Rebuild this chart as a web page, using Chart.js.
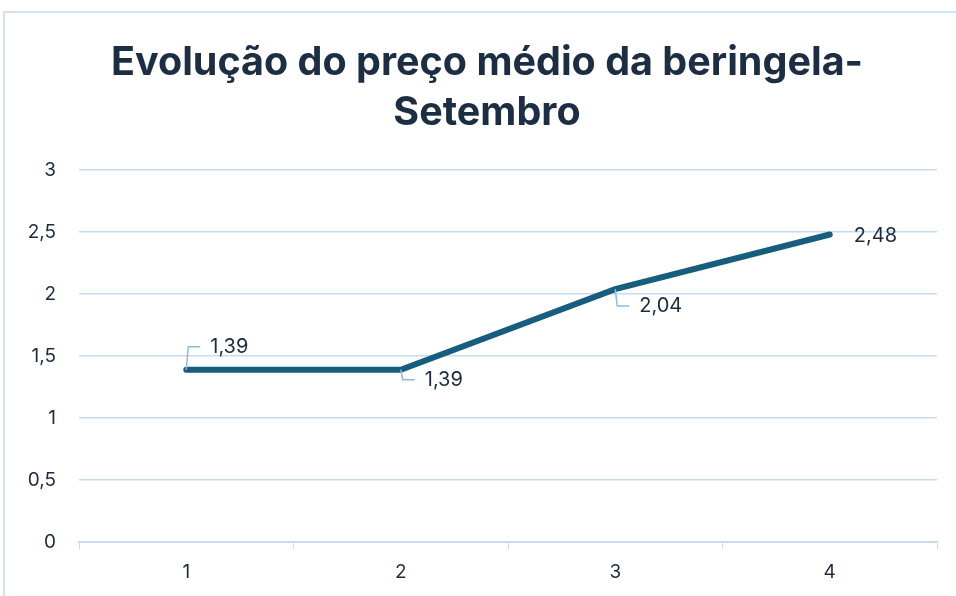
<!DOCTYPE html>
<html>
<head>
<meta charset="utf-8">
<script src="https://cdn.jsdelivr.net/npm/chart.js@4"></script>
<style>
  html, body { margin: 0; padding: 0; background: #fff; }
  #wrap { position: relative; width: 956px; height: 596px; }
</style>
</head>
<body>
<div id="wrap"><canvas id="myChart" width="956" height="596"></canvas></div>
<script>
const semanas = ["1", "2", "3", "4"];
const precoMedio = [1.39, 1.39, 2.04, 2.48];
const yTicks = [0, 0.5, 1, 1.5, 2, 2.5, 3];
const tituloLinhas = ["Evolução do preço médio da beringela-", "Setembro"];

// where each data label sits relative to its point (dx, dy) and whether it gets a leader line
const labelPos = [
  { dx: 24, dy: -23, leader: true },
  { dx: 24, dy: 10, leader: true },
  { dx: 24, dy: 17, leader: true },
  { dx: 24, dy: 1, leader: false }
];

const txtColor = "#1b2b3f";
const gridColor = "#c8dcf0";
const fontFam = "Inter, 'Open Sans', sans-serif";
const fmt = (v) => String(v).replace(".", ",");

const frame = {
  id: "frame",
  beforeDraw(chart) {
    const c = chart.ctx;
    c.save();
    c.strokeStyle = "#c5d9ee";
    c.lineWidth = 1.5;
    c.strokeRect(4, 12, 2000, 2000);
    // title
    c.fillStyle = "#1c2e44";
    c.font = "bold 39.5px " + fontFam;
    c.textAlign = "center";
    c.textBaseline = "alphabetic";
    c.fillText(tituloLinhas[0], 487, 75);
    c.fillText(tituloLinhas[1], 487, 125);
    c.restore();
  }
};

const dataLabels = {
  id: "dataLabels",
  afterDatasetsDraw(chart) {
    const c = chart.ctx;
    const meta = chart.getDatasetMeta(0);
    c.save();
    c.font = "20px " + fontFam;
    c.fillStyle = txtColor;
    c.textBaseline = "middle";
    meta.data.forEach((pt, i) => {
      const p = labelPos[i];
      const tx = pt.x + p.dx;
      const ty = pt.y + p.dy;
      if (p.leader) {
        c.strokeStyle = "#8fb8e0";
        c.lineWidth = 1.5;
        c.beginPath();
        c.moveTo(pt.x, pt.y);
        c.lineTo(pt.x + 2, ty);
        c.lineTo(tx - 10, ty);
        c.stroke();
      }
      c.fillText(fmt(chart.data.datasets[0].data[i]), tx, ty);
    });
    c.restore();
  }
};

new Chart(document.getElementById("myChart"), {
  type: "line",
  data: {
    labels: semanas,
    datasets: [{
      data: precoMedio,
      borderColor: "#175e7e",
      borderWidth: 6,
      borderCapStyle: "round",
      pointRadius: 0,
      tension: 0
    }]
  },
  options: {
    responsive: false,
    animation: false,
    layout: { padding: { left: 0, right: 19, top: 170, bottom: 0 } },
    plugins: {
      legend: { display: false },
      tooltip: { enabled: false },
      title: { display: false }
    },
    scales: {
      x: {
        offset: true,
        grid: { drawOnChartArea: false, drawTicks: true, tickLength: 7, color: gridColor, offset: true },
        border: { color: gridColor, width: 2 },
        ticks: { color: txtColor, font: { family: fontFam, size: 19 }, padding: 12 }
      },
      y: {
        min: 0,
        max: 3,
        afterFit(scale) { scale.width = 79; },
        afterBuildTicks(scale) { scale.ticks = yTicks.map(v => ({ value: v })); },
        grid: { color: gridColor, lineWidth: 1.5, drawTicks: false },
        border: { display: false },
        ticks: {
          color: txtColor,
          font: { family: fontFam, size: 19 },
          padding: 23,
          callback: (v) => fmt(v)
        }
      }
    }
  },
  plugins: [frame, dataLabels]
});
</script>
</body>
</html>
